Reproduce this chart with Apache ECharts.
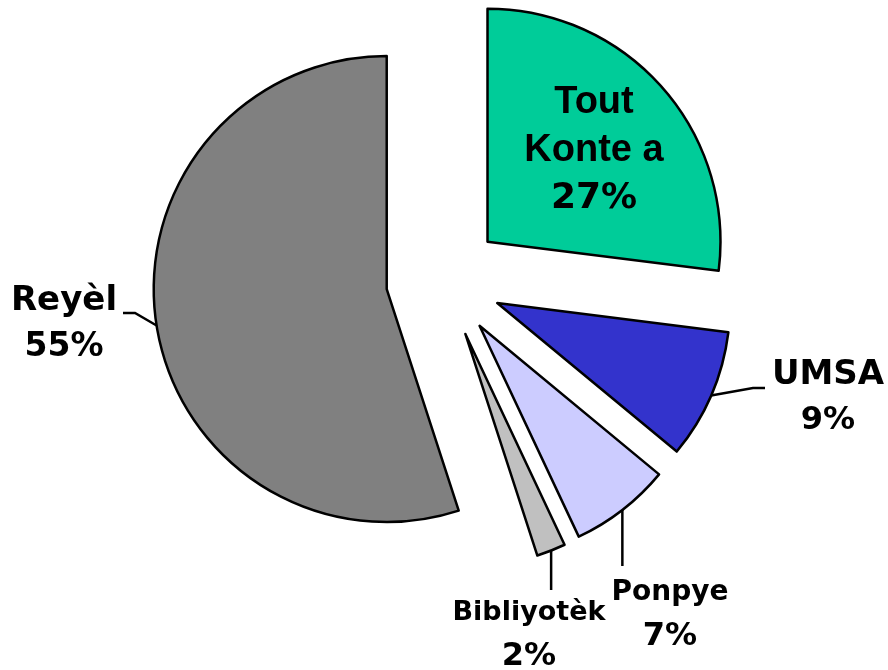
<!DOCTYPE html>
<html>
<head>
<meta charset="utf-8">
<script src="https://cdn.jsdelivr.net/npm/echarts@6/dist/echarts.min.js"></script>
<style>
html, body { margin: 0; padding: 0; background: #ffffff; }
#chart { width: 888px; height: 670px; }
</style>
</head>
<body>
<div id="chart"></div>
<script>
// ---- data ----
const categories = ['Tout Konte a', 'UMSA', 'Ponpye', 'Bibliyotèk', 'Reyèl'];
const labelNames = ['Tout\nKonte a', 'UMSA', 'Ponpye', 'Bibliyotèk', 'Reyèl'];
const values = [27, 9, 7, 2, 55];

// ---- styles / layout (not data) ----
const colors = ['#00CC99', '#3333CC', '#CCCCFF', '#C0C0C0', '#808080'];
const pieCenter = [444, 280];
const pieRadius = 233;
const explode = 58;
// label box centre, fonts; leader: anchor point near the label (ax null = straight down from slice)
const labelStyles = [
  { x: 594, y: 151, nFont: 'Liberation Sans', nSize: 38, pSize: 36, lh: 48, inside: true },
  { x: 828, y: 398, nFont: 'DejaVu Sans', nSize: 34, pSize: 32, lh: 46, inside: false, ax: 765, ay: 388, len2: -12 },
  { x: 670, y: 615, nFont: 'DejaVu Sans', nSize: 28, pSize: 32, lh: 44, inside: false, ax: null, ay: 566, len2: 0 },
  { x: 529, y: 635, nFont: 'DejaVu Sans', nSize: 27, pSize: 32, lh: 44, inside: false, ax: null, ay: 590, len2: 0 },
  { x: 64, y: 324, nFont: 'DejaVu Sans', nSize: 34, pSize: 33, lh: 46, inside: false, ax: 123, ay: 313, len2: 12 }
];

const total = values.reduce(function (a, b) { return a + b; }, 0);

// one pie series per slice; only slice i is drawn in series i, exploded along its bisector
const series = categories.map(function (cat, i) {
  let before = 0;
  for (let k = 0; k < i; k++) before += values[k];
  const midDeg = 90 - 360 * (before + values[i] / 2) / total;
  const rad = midDeg * Math.PI / 180;
  const center = [pieCenter[0] + explode * Math.cos(rad), pieCenter[1] - explode * Math.sin(rad)];
  const edge = [center[0] + pieRadius * Math.cos(rad), center[1] - pieRadius * Math.sin(rad)];
  const s = labelStyles[i];
  const textLines = labelNames[i].split('\n').map(function (l) { return '{n|' + l + '}'; });
  textLines.push('{p|' + values[i] + '%}');
  return {
    type: 'pie',
    center: center,
    radius: pieRadius,
    startAngle: 90,
    clockwise: true,
    avoidLabelOverlap: false,
    silent: true,
    emphasis: { disabled: true, scale: false },
    labelLine: { lineStyle: { color: '#000000', width: 2.5 } },
    labelLayout: function (p) {
      if (p.dataIndex !== i) return {};
      const out = { x: s.x, y: s.y, align: 'center', verticalAlign: 'middle' };
      if (!s.inside) {
        const ax = s.ax == null ? edge[0] : s.ax;
        const a = [ax, s.ay];
        const p1 = [ax + s.len2, s.ay];
        out.labelLinePoints = [edge, p1, a];
      }
      return out;
    },
    data: categories.map(function (name, j) {
      if (j !== i) {
        return {
          name: name, value: values[j],
          itemStyle: { color: 'rgba(0,0,0,0)', borderWidth: 0 },
          label: { show: false }, labelLine: { show: false }
        };
      }
      return {
        name: name,
        value: values[j],
        itemStyle: { color: colors[j], borderColor: '#000000', borderWidth: 2.5 },
        label: {
          show: true,
          position: s.inside ? 'inside' : 'outside',
          formatter: textLines.join('\n'),
          align: 'center',
          color: '#000000',
          rich: {
            n: { fontFamily: s.nFont, fontSize: s.nSize, fontWeight: 'bold', lineHeight: s.lh, color: '#000000', align: 'center' },
            p: { fontFamily: 'DejaVu Sans', fontSize: s.pSize, fontWeight: 'bold', lineHeight: s.lh, color: '#000000', align: 'center' }
          }
        },
        labelLine: {
          show: !s.inside,
          length: 2,
          length2: 0,
          smooth: false,
          minTurnAngle: 0,
          lineStyle: { color: '#000000', width: 2.5 }
        }
      };
    })
  };
});

const chart = echarts.init(document.getElementById('chart'), null, { renderer: 'canvas' });
chart.setOption({
  backgroundColor: '#ffffff',
  animation: false,
  series: series
});
</script>
</body>
</html>
